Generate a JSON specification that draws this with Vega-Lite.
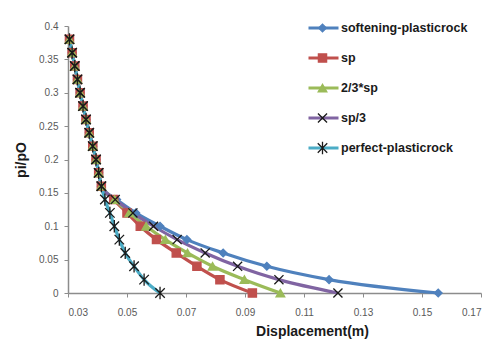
{
  "$schema": "https://vega.github.io/schema/vega-lite/v6.json",
  "width": 413,
  "height": 267,
  "autosize": {"type": "none"},
  "padding": {"left": 68, "top": 26, "right": 16, "bottom": 62},
  "background": "white",
  "config": {
    "view": {"stroke": null},
    "font": "Liberation Sans",
    "axis": {"grid": false, "domainColor": "#8c8c8c", "tickColor": "#8c8c8c", "labelFont": "Liberation Sans", "labelFontSize": 10, "labelColor": "#595959", "titleFont": "Liberation Sans", "titleFontSize": 14, "titleFontWeight": "bold", "titleColor": "#1a1a1a", "tickSize": 4, "domainWidth": 1.5}
  },
  "data": {"values": [
    {"s":"softening-plasticrock","x":0.0305,"y":0.38},{"s":"softening-plasticrock","x":0.0314,"y":0.36},{"s":"softening-plasticrock","x":0.0323,"y":0.34},{"s":"softening-plasticrock","x":0.0332,"y":0.32},{"s":"softening-plasticrock","x":0.0341,"y":0.30},{"s":"softening-plasticrock","x":0.0351,"y":0.28},{"s":"softening-plasticrock","x":0.0361,"y":0.26},{"s":"softening-plasticrock","x":0.0372,"y":0.24},{"s":"softening-plasticrock","x":0.0384,"y":0.22},{"s":"softening-plasticrock","x":0.0395,"y":0.20},{"s":"softening-plasticrock","x":0.0404,"y":0.18},{"s":"softening-plasticrock","x":0.0413,"y":0.16},
    {"s":"softening-plasticrock","x":0.0465,"y":0.14},{"s":"softening-plasticrock","x":0.053,"y":0.12},{"s":"softening-plasticrock","x":0.0612,"y":0.10},{"s":"softening-plasticrock","x":0.0703,"y":0.08},{"s":"softening-plasticrock","x":0.0826,"y":0.06},{"s":"softening-plasticrock","x":0.0974,"y":0.04},{"s":"softening-plasticrock","x":0.1185,"y":0.02},{"s":"softening-plasticrock","x":0.1555,"y":0},
    {"s":"sp","x":0.0305,"y":0.38},{"s":"sp","x":0.0314,"y":0.36},{"s":"sp","x":0.0323,"y":0.34},{"s":"sp","x":0.0332,"y":0.32},{"s":"sp","x":0.0341,"y":0.30},{"s":"sp","x":0.0351,"y":0.28},{"s":"sp","x":0.0361,"y":0.26},{"s":"sp","x":0.0372,"y":0.24},{"s":"sp","x":0.0384,"y":0.22},{"s":"sp","x":0.0395,"y":0.20},{"s":"sp","x":0.0404,"y":0.18},{"s":"sp","x":0.0413,"y":0.16},
    {"s":"sp","x":0.0455,"y":0.14},{"s":"sp","x":0.050,"y":0.12},{"s":"sp","x":0.0545,"y":0.10},{"s":"sp","x":0.060,"y":0.08},{"s":"sp","x":0.0667,"y":0.06},{"s":"sp","x":0.0737,"y":0.04},{"s":"sp","x":0.0815,"y":0.02},{"s":"sp","x":0.0925,"y":0},
    {"s":"2/3*sp","x":0.0305,"y":0.38},{"s":"2/3*sp","x":0.0314,"y":0.36},{"s":"2/3*sp","x":0.0323,"y":0.34},{"s":"2/3*sp","x":0.0332,"y":0.32},{"s":"2/3*sp","x":0.0341,"y":0.30},{"s":"2/3*sp","x":0.0351,"y":0.28},{"s":"2/3*sp","x":0.0361,"y":0.26},{"s":"2/3*sp","x":0.0372,"y":0.24},{"s":"2/3*sp","x":0.0384,"y":0.22},{"s":"2/3*sp","x":0.0395,"y":0.20},{"s":"2/3*sp","x":0.0404,"y":0.18},{"s":"2/3*sp","x":0.0413,"y":0.16},
    {"s":"2/3*sp","x":0.0458,"y":0.14},{"s":"2/3*sp","x":0.0508,"y":0.12},{"s":"2/3*sp","x":0.0565,"y":0.10},{"s":"2/3*sp","x":0.063,"y":0.08},{"s":"2/3*sp","x":0.0705,"y":0.06},{"s":"2/3*sp","x":0.079,"y":0.04},{"s":"2/3*sp","x":0.0898,"y":0.02},{"s":"2/3*sp","x":0.102,"y":0},
    {"s":"sp/3","x":0.0305,"y":0.38},{"s":"sp/3","x":0.0314,"y":0.36},{"s":"sp/3","x":0.0323,"y":0.34},{"s":"sp/3","x":0.0332,"y":0.32},{"s":"sp/3","x":0.0341,"y":0.30},{"s":"sp/3","x":0.0351,"y":0.28},{"s":"sp/3","x":0.0361,"y":0.26},{"s":"sp/3","x":0.0372,"y":0.24},{"s":"sp/3","x":0.0384,"y":0.22},{"s":"sp/3","x":0.0395,"y":0.20},{"s":"sp/3","x":0.0404,"y":0.18},{"s":"sp/3","x":0.0413,"y":0.16},
    {"s":"sp/3","x":0.046,"y":0.14},{"s":"sp/3","x":0.052,"y":0.12},{"s":"sp/3","x":0.059,"y":0.10},{"s":"sp/3","x":0.067,"y":0.08},{"s":"sp/3","x":0.0765,"y":0.06},{"s":"sp/3","x":0.0875,"y":0.04},{"s":"sp/3","x":0.1015,"y":0.02},{"s":"sp/3","x":0.1215,"y":0},
    {"s":"perfect-plasticrock","x":0.0305,"y":0.38},{"s":"perfect-plasticrock","x":0.0314,"y":0.36},{"s":"perfect-plasticrock","x":0.0323,"y":0.34},{"s":"perfect-plasticrock","x":0.0332,"y":0.32},{"s":"perfect-plasticrock","x":0.0341,"y":0.30},{"s":"perfect-plasticrock","x":0.0351,"y":0.28},{"s":"perfect-plasticrock","x":0.0361,"y":0.26},{"s":"perfect-plasticrock","x":0.0372,"y":0.24},{"s":"perfect-plasticrock","x":0.0384,"y":0.22},{"s":"perfect-plasticrock","x":0.0395,"y":0.20},{"s":"perfect-plasticrock","x":0.0404,"y":0.18},{"s":"perfect-plasticrock","x":0.0413,"y":0.16},
    {"s":"perfect-plasticrock","x":0.0425,"y":0.14},{"s":"perfect-plasticrock","x":0.0442,"y":0.12},{"s":"perfect-plasticrock","x":0.0457,"y":0.10},{"s":"perfect-plasticrock","x":0.0474,"y":0.08},{"s":"perfect-plasticrock","x":0.0494,"y":0.06},{"s":"perfect-plasticrock","x":0.0524,"y":0.04},{"s":"perfect-plasticrock","x":0.0558,"y":0.02},{"s":"perfect-plasticrock","x":0.0612,"y":0}
  ]},
  "encoding": {
    "x": {"field": "x", "type": "quantitative", "scale": {"domain": [0.03, 0.17], "zero": false, "nice": false},
      "axis": {"values": [0.03,0.05,0.07,0.09,0.11,0.13,0.15,0.17], "format": ".2f", "title": "Displacement(m)", "labelPadding": 10, "titleX": 244, "titleY": 31, "titleBaseline": "top"}},
    "y": {"field": "y", "type": "quantitative", "scale": {"domain": [0, 0.4], "nice": false},
      "axis": {"values": [0,0.05,0.1,0.15,0.2,0.25,0.3,0.35,0.4], "format": "~g", "title": "pi/pO", "labelPadding": 6, "titleX": -40, "titleBaseline": "bottom"}}
  },
  "layer": [
    {
      "mark": {"type": "line", "interpolate": "monotone", "strokeWidth": 3.2},
      "encoding": {
        "color": {"field": "s", "type": "nominal",
          "scale": {"domain": ["softening-plasticrock","sp","2/3*sp","sp/3","perfect-plasticrock"], "range": ["#4F81BD","#C0504D","#9BBB59","#8064A2","#4BACC6"]},
          "legend": {"title": null, "orient": "none", "legendX": 239, "legendY": -5, "symbolType": "stroke", "symbolSize": 900, "symbolStrokeWidth": 3, "clipHeight": 14, "rowPadding": 16, "padding": 0, "labelFont": "Liberation Sans", "labelFontSize": 12.5, "labelFontWeight": "bold", "labelColor": "#1a1a1a", "labelOffset": 1}
        }
      }
    },
    {
      "mark": {"type": "point", "filled": true, "opacity": 1, "strokeWidth": 1.3},
      "encoding": {
        "shape": {"field": "s", "type": "nominal", "sort": null,
          "scale": {"range": ["diamond", "square", "triangle-up", "M-1,-1L1,1M-1,1L1,-1", "M-1,-1L1,1M-1,1L1,-1M0,-1.3L0,1.3"]},
          "legend": {"title": null, "orient": "none", "legendX": 249, "legendY": -5, "symbolStrokeWidth": 1.3, "clipHeight": 14, "rowPadding": 16, "padding": 0, "labelExpr": "''", "labelFontSize": 1}},
        "fill": {"field": "s", "type": "nominal", "sort": null,
          "scale": {"range": ["#4F81BD","#C0504D","#9BBB59","#8064A2","#4BACC6"]}},
        "stroke": {"field": "s", "type": "nominal", "sort": null,
          "scale": {"range": ["#4F81BD","#C0504D","#9BBB59","#1a1a1a","#1a1a1a"]}},
        "size": {"field": "s", "type": "nominal", "sort": null,
          "scale": {"range": [60, 90, 70, 60, 60]}}
      }
    }
  ]
}
